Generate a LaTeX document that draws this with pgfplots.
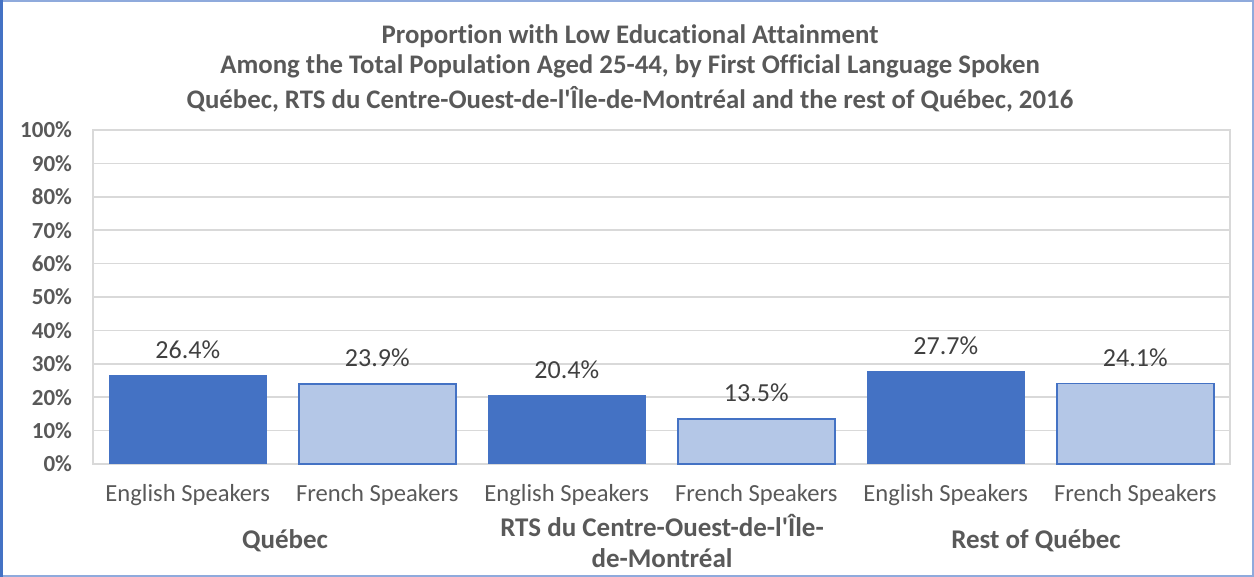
\documentclass[border=0pt]{standalone}
\usepackage{pgfplots}
\pgfplotsset{compat=1.18}
\usepackage{fontspec}
\setmainfont{Carlito}[Ligatures={NoCommon}]
\definecolor{dblue}{HTML}{4472C4}
\definecolor{lblue}{HTML}{B4C7E7}
\definecolor{txt}{HTML}{595959}
\definecolor{lbl}{HTML}{404040}
\definecolor{gridc}{HTML}{D9D9D9}
\definecolor{frame}{HTML}{8FAADC}
\begin{document}
\begin{tikzpicture}[x=1pt,y=1pt]
\path[use as bounding box] (0,0) rectangle (627,288.5);
\draw[frame, line width=1pt] (0.5,0.5) rectangle (626.5,288);
\draw[dblue, line width=1.5pt] (0.75,0) -- (0.75,288.5);
\node[font=\fontsize{13.4}{15}\selectfont\bfseries, text=txt] at (315,270.5) {Proportion with Low Educational Attainment};
\node[font=\fontsize{13.4}{15}\selectfont\bfseries, text=txt] at (315,255.5) {Among the Total Population Aged 25-44, by First Official Language Spoken};
\node[font=\fontsize{13.4}{15}\selectfont\bfseries, text=txt] at (315,239) {Québec, RTS du Centre-Ouest-de-l\textquotesingle Île-de-Montréal and the rest of Québec, 2016};
\begin{axis}[
  at={(46.5pt,56.5pt)}, anchor=south west,
  scale only axis, width=568.5pt, height=167pt,
  xmin=-0.5, xmax=5.5, ymin=0, ymax=100,
  ytick={0,10,...,100},
  yticklabel={\pgfmathprintnumber{\tick}\%},
  yticklabel style={font=\fontsize{11.5}{13}\selectfont\bfseries, text=txt, xshift=-7pt},
  /pgf/number format/assume math mode=true,
  xtick={0,1,2,3,4,5},
  xticklabels={English Speakers, French Speakers, English Speakers, French Speakers, English Speakers, French Speakers},
  xticklabel style={font=\fontsize{12.3}{14}\selectfont, text=txt, anchor=center, yshift=-15.5pt},
  major tick length=0pt,
  ymajorgrids, grid style={gridc, line width=0.75pt},
  axis line style={gridc, line width=0.75pt},
  ybar, bar width=0.83, bar shift=0pt,
  clip=false,
  nodes near coords={\pgfmathprintnumber[fixed,fixed zerofill,precision=1]{\pgfplotspointmeta}\%},
  every node near coord/.append style={font=\fontsize{13}{15}\selectfont, text=lbl, anchor=center, yshift=13pt},
]
\addplot[fill=dblue, draw=dblue, line width=0.5pt] coordinates {(0,26.4) (2,20.4) (4,27.7)};
\addplot[fill=lblue, draw=dblue, line width=0.9pt] coordinates {(1,23.9) (3,13.5) (5,24.1)};
\end{axis}
\node[font=\fontsize{13.5}{15.5}\selectfont\bfseries, text=txt] at (142.5,18) {Québec};
\node[font=\fontsize{13.5}{15.5}\selectfont\bfseries, text=txt, align=center] at (331,18.25) {RTS du Centre-Ouest-de-l\textquotesingle Île-\\de-Montréal};
\node[font=\fontsize{13.5}{15.5}\selectfont\bfseries, text=txt] at (518,18) {Rest of Québec};
\end{tikzpicture}
\end{document}
